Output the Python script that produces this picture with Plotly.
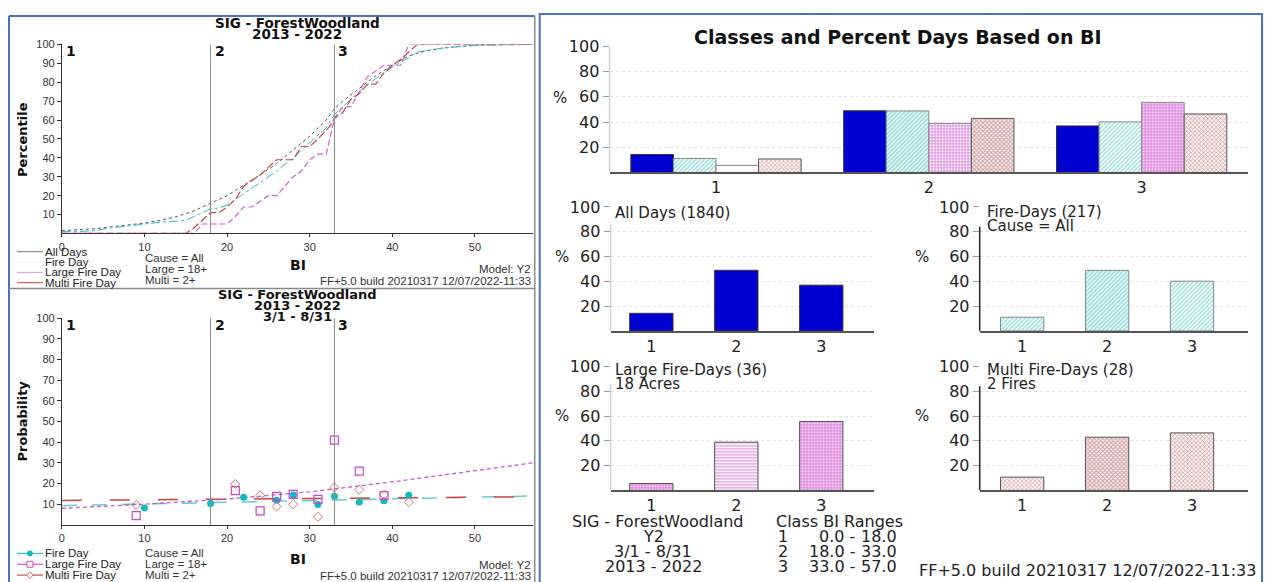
import plotly.graph_objects as go

# ---------------------------------------------------------------- data
# Cumulative percentile of BI (top-left panel)
bi_all = [0, 2, 4, 6, 8, 10, 12, 14, 16, 18, 20, 22, 24, 26, 28, 30, 32, 33, 34, 36, 38, 40, 42, 44, 46, 48, 50, 54, 57]
pct_all = [1.5, 2, 2.5, 3.5, 4.5, 5.5, 7, 9, 12, 16, 20, 25.5, 31, 37, 44, 51.5, 60, 66, 70, 77, 83.5, 89, 94, 96.5, 98, 99, 99.5, 100, 100]

bi_fire = [0, 2, 4, 6, 8, 10, 12, 14, 15, 16, 18, 19, 20, 22, 24, 26, 28, 30, 32, 33, 34, 36, 38, 40, 42, 43, 46, 50, 57]
pct_fire = [1, 1, 1.5, 3, 4, 5, 6, 6.5, 7, 9, 13, 13.5, 15, 21, 27, 33, 40, 48, 56, 63, 67, 75, 82, 88, 93, 96, 98, 99.5, 100]

bi_large = [0, 16, 17, 20, 21, 22, 23, 25, 26, 27, 28, 29, 30, 31, 32, 33, 34, 35, 36, 37, 38, 39, 41, 42, 57]
pct_large = [0, 0, 5, 5, 9, 14, 14, 20, 20, 25, 30, 33, 39, 42, 42, 61, 67, 67, 75, 83, 86, 89, 89, 100, 100]

bi_multi = [0, 15, 16, 18, 19, 20, 21, 22, 24, 26, 28, 29, 30, 31, 32.5, 33, 34, 35, 36, 37, 38, 39, 40, 41, 42, 43, 57]
pct_multi = [0, 0, 3, 11, 11, 14, 18, 25, 31, 39, 39, 46, 46, 50, 57, 61, 64, 71, 74, 79, 79, 85, 89, 92, 96, 100, 100]

# Probability by BI (bottom-left panel)
fire_bi = [10, 18, 22, 26, 28, 31, 33, 36, 39, 42]
fire_prob = [8.2, 10.3, 13.4, 11.9, 14.5, 9.9, 13.8, 11.1, 11.7, 14.3]

large_bi = [9, 21, 24, 26, 28, 31, 33, 36, 39]
large_prob = [4.5, 16.6, 6.8, 13.8, 14.8, 12.3, 41, 26, 14.2]

multi_bi = [9, 21, 24, 26, 28, 31, 33, 36, 39, 42]
multi_prob = [9.7, 19.8, 14.3, 8.9, 10.0, 3.9, 18.1, 17.1, 14.6, 11.0]

trend_bi = [0, 10, 20, 30, 40, 50, 57]
trend_large = [8, 10, 12.5, 16, 20.8, 26, 30]
trend_fire = [9.3, 10.2, 11.0, 11.8, 12.6, 13.4, 14.0]
trend_multi = [11.8, 12.1, 12.4, 12.7, 13.0, 13.3, 13.6]

class_breaks = [18.0, 33.0]
class_names = ["1", "2", "3"]

# Percent of days in each BI class (right panel)
classes = [1, 2, 3]
n_all, n_fire, n_large, n_multi = 1840, 217, 36, 28
pct_all_days = [14.2, 48.9, 36.9]
pct_fire_days = [11.1, 48.8, 40.1]
pct_large_days = [5.6, 38.9, 55.6]
pct_multi_days = [10.7, 42.9, 46.4]

range_lo = ["0.0 -", "18.0 -", "33.0 -"]
range_hi = ["18.0", "33.0", "57.0"]

stamp = "FF+5.0 build 20210317 12/07/2022-11:33"

# ---------------------------------------------------------------- helpers
W, H = 1273, 582


def px(x):
    return x / W


def py(y):
    return 1 - y / H


SANS = "Liberation Sans, Arial, sans-serif"
WIDE = "DejaVu Sans, sans-serif"

annotations = []
shapes = []


def label(x, y, s, size, anchor="center", bold=False, family=SANS, color="#222", **kw):
    annotations.append(dict(
        xref="paper", yref="paper", x=px(x), y=py(y),
        text=f"<b>{s}</b>" if bold else s, showarrow=False,
        xanchor=anchor, yanchor="middle",
        font=dict(family=family, size=size, color=color), **kw))


def seg(x0, y0, x1, y1, color, width=1, dash="solid"):
    shapes.append(dict(type="line", xref="paper", yref="paper",
                       x0=px(x0), y0=py(y0), x1=px(x1), y1=py(y1),
                       line=dict(color=color, width=width, dash=dash)))


fig = go.Figure()

# ---------------------------------------------------------------- top-left: percentile curves
fig.add_trace(go.Scatter(x=bi_all, y=pct_all, mode="lines", xaxis="x", yaxis="y",
                         line=dict(color="#555555", width=1, dash="dot"), showlegend=False))
fig.add_trace(go.Scatter(x=bi_fire, y=pct_fire, mode="lines", xaxis="x", yaxis="y",
                         line=dict(color="#30bcbc", width=1, dash="dashdot"), showlegend=False))
fig.add_trace(go.Scatter(x=bi_large, y=pct_large, mode="lines", xaxis="x", yaxis="y",
                         line=dict(color="#cc66cc", width=1.2, dash="6px,3px"), showlegend=False))
fig.add_trace(go.Scatter(x=bi_multi, y=pct_multi, mode="lines", xaxis="x", yaxis="y",
                         line=dict(color="#c84848", width=1.2, dash="8px,3px"), showlegend=False))

# ---------------------------------------------------------------- bottom-left: probability
fig.add_trace(go.Scatter(x=trend_bi, y=trend_fire, mode="lines", xaxis="x2", yaxis="y2",
                         line=dict(color="#5fd0d0", width=1.5, dash="longdash"), showlegend=False))
fig.add_trace(go.Scatter(x=trend_bi, y=trend_multi, mode="lines", xaxis="x2", yaxis="y2",
                         line=dict(color="#cc4444", width=1.5, dash="20px,28px"), showlegend=False))
fig.add_trace(go.Scatter(x=trend_bi, y=trend_large, mode="lines", xaxis="x2", yaxis="y2",
                         line=dict(color="#cc55cc", width=1.3, dash="4px,3px"), showlegend=False))
fig.add_trace(go.Scatter(x=fire_bi, y=fire_prob, mode="markers", xaxis="x2", yaxis="y2",
                         marker=dict(symbol="circle", size=7, color="#10b8c0"), showlegend=False))
fig.add_trace(go.Scatter(x=large_bi, y=large_prob, mode="markers", xaxis="x2", yaxis="y2",
                         marker=dict(symbol="square-open", size=8, color="#cc44cc", line=dict(width=1.2)),
                         showlegend=False))
fig.add_trace(go.Scatter(x=multi_bi, y=multi_prob, mode="markers", xaxis="x2", yaxis="y2",
                         marker=dict(symbol="diamond-open", size=7, color="#d07070", line=dict(width=1)),
                         showlegend=False))

# class break lines and class numbers on both left panels
for xa, ya in (("x", "y"), ("x2", "y2")):
    for b in class_breaks:
        shapes.append(dict(type="line", xref=xa, yref=ya, x0=b, x1=b, y0=0, y1=100,
                           line=dict(color="#8a8a8a", width=1)))
    for xv, name in zip([0] + class_breaks, class_names):
        annotations.append(dict(xref=xa, yref=ya, x=xv, y=96.5, text=f"<b>{name}</b>",
                                showarrow=False, xanchor="left", yanchor="middle", xshift=2,
                                font=dict(family=WIDE, size=14, color="#111")))

# ---------------------------------------------------------------- right: bars
fire_style = dict(color="#f2fbfb", line=dict(color="#7a8c8c", width=1),
                  pattern=dict(shape="/", fgcolor="#3cb8b8", bgcolor="#f0fafa", size=3,
                               solidity=[0.4, 0.5, 0.35]))
multi_style = dict(color="#fbf3f3", line=dict(color="#555", width=1),
                   pattern=dict(shape="x", fgcolor="#a04848", bgcolor="#fbf0f0", size=3,
                                solidity=[0.35, 0.5, 0.4]))
blue_style = dict(color="#0000d0", line=dict(color="#333", width=1))

top_series = [
    (pct_all_days, blue_style),
    (pct_fire_days, fire_style),
    (pct_large_days, dict(color="#ffffff", line=dict(color="#888", width=1),
                          pattern=dict(shape=["", "+", "+"], fgcolor="#c010c0", bgcolor="#ffffff",
                                       size=3, solidity=[0.3, 0.55, 0.7]))),
    (pct_multi_days, multi_style),
]
for i, (vals, style) in enumerate(top_series):
    fig.add_trace(go.Bar(x=classes, y=vals, xaxis="x3", yaxis="y3", width=0.2, offset=-0.4 + 0.2 * i,
                         marker=style, showlegend=False))

single = [
    ("x4", "y4", pct_all_days, blue_style),
    ("x5", "y5", pct_fire_days, fire_style),
    ("x6", "y6", pct_large_days, dict(color="#ffffff", line=dict(color="#555", width=1),
                                      pattern=dict(shape=["+", "-", "+"], fgcolor="#c010c0",
                                                   bgcolor="#ffffff", size=3,
                                                   solidity=[0.7, 0.4, 0.7]))),
    ("x7", "y7", pct_multi_days, multi_style),
]
for xa, ya, vals, style in single:
    fig.add_trace(go.Bar(x=classes, y=vals, xaxis=xa, yaxis=ya, width=0.51, offset=-0.255,
                         marker=style, showlegend=False))

# ---------------------------------------------------------------- axes
left_x = dict(range=[0, 57], showline=True, linecolor="#333", linewidth=1, ticks="outside",
              ticklen=3, tickcolor="#333", tickvals=[0, 10, 20, 30, 40, 50],
              tickfont=dict(family=SANS, size=11, color="#333"), showgrid=False, zeroline=False,
              domain=[px(59), px(531)])
left_y = dict(range=[0, 100], showline=True, linecolor="#333", linewidth=1, ticks="outside",
              ticklen=4, tickcolor="#333", tickvals=list(range(10, 101, 10)),
              tickfont=dict(family=SANS, size=11, color="#333"), showgrid=False, zeroline=False)

bar_y = dict(range=[0, 100], tickvals=[20, 40, 60, 80, 100], ticks="outside", ticklen=6,
             tickcolor="#999", tickfont=dict(family=WIDE, size=16, color="#222"),
             showgrid=True, gridcolor="#e2e2e2", griddash="dot", zeroline=False, showline=False)
bar_x = dict(tickvals=classes, ticktext=class_names, showgrid=False, zeroline=False,
             showline=True, linecolor="#555", linewidth=1.5, ticks="",
             tickfont=dict(family=WIDE, size=16, color="#222"))

fig.update_layout(
    width=W, height=H, margin=dict(l=0, r=0, t=0, b=0), autosize=False,
    paper_bgcolor="white", plot_bgcolor="white", barmode="overlay",
    xaxis=dict(**left_x, anchor="y"),
    yaxis=dict(**left_y, anchor="x", domain=[py(228), py(36)]),
    xaxis2=dict(**left_x, anchor="y2"),
    yaxis2=dict(**left_y, anchor="x2", domain=[py(524), py(314)]),
    xaxis3=dict(**bar_x, range=[0.5, 3.5], domain=[px(608), px(1248)], anchor="y3"),
    yaxis3=dict(**bar_y, domain=[py(166), py(38)], anchor="x3"),
    xaxis4=dict(**bar_x, range=[0.52, 3.62], domain=[px(609), px(873)], anchor="y4"),
    yaxis4=dict(**bar_y, domain=[py(327), py(201)], anchor="x4"),
    xaxis5=dict(**bar_x, range=[0.5, 3.66], domain=[px(979), px(1248)], anchor="y5"),
    yaxis5=dict(**bar_y, domain=[py(327), py(201)], anchor="x5"),
    xaxis6=dict(**bar_x, range=[0.52, 3.62], domain=[px(609), px(873)], anchor="y6"),
    yaxis6=dict(**bar_y, domain=[py(489), py(363)], anchor="x6"),
    xaxis7=dict(**bar_x, range=[0.5, 3.66], domain=[px(979), px(1248)], anchor="y7"),
    yaxis7=dict(**bar_y, domain=[py(489), py(363)], anchor="x7"),
)

# y-axis lines of the bar charts
for xa, ya, col, top in (("x3", "y3", "#cfcfcf", 100), ("x4", "y4", "#cfcfcf", 86),
                         ("x5", "y5", "#222", 84), ("x6", "y6", "#cfcfcf", 86),
                         ("x7", "y7", "#222", 84)):
    shapes.append(dict(type="line", xref=f"{xa} domain", yref=ya, x0=0, x1=0, y0=0, y1=top,
                       line=dict(color=col, width=1.5)))

# ---------------------------------------------------------------- left panel texts
label(295, 14, "SIG - ForestWoodland", 13.5, bold=True, family=WIDE, color="#111")
label(295, 25, "2013 - 2022", 13.5, bold=True, family=WIDE, color="#111")
label(20, 132, "Percentile", 13, bold=True, family=WIDE, color="#111", textangle=-90)
label(296, 260, "BI", 14, bold=True, family=WIDE, color="#111")
label(531, 264, "Model: Y2", 11.5, anchor="right", color="#333")
label(531, 276, stamp, 11.5, anchor="right", color="#333")
for yy, s in zip([253, 264.5, 275.5], ["Cause = All", "Large = 18+", "Multi = 2+"]):
    label(140, yy, s, 11.5, anchor="left", color="#333")
top_legend = [("All Days", "#777777"), ("Fire Day", "#e8f8f8"),
              ("Large Fire Day", "#dd99dd"), ("Multi Fire Day", "#c84040")]
for k, (name, col) in enumerate(top_legend):
    yy = 246.5 + 10.5 * k
    seg(14, yy, 40, yy, col, 1)
    label(40, yy, name, 11.5, anchor="left", color="#222")

label(295, 290, "SIG - ForestWoodland", 13, bold=True, family=WIDE, color="#111")
label(295, 301, "2013 - 2022", 13, bold=True, family=WIDE, color="#111")
label(295, 312, "3/1 - 8/31", 13, bold=True, family=WIDE, color="#111")
label(20, 418, "Probability", 13, bold=True, family=WIDE, color="#111", textangle=-90)
label(296, 559, "BI", 14, bold=True, family=WIDE, color="#111")
label(531, 564.5, "Model: Y2", 11.5, anchor="right", color="#333")
label(531, 575.5, stamp, 11.5, anchor="right", color="#333")
for yy, s in zip([553, 564, 575], ["Cause = All", "Large = 18+", "Multi = 2+"]):
    label(140, yy, s, 11.5, anchor="left", color="#333")
bottom_legend = [("Fire Day", "#30c0c0"), ("Large Fire Day", "#cc55cc"), ("Multi Fire Day", "#cc5050")]
for k, (name, col) in enumerate(bottom_legend):
    yy = 553 + 11 * k
    seg(14, yy, 40, yy, col, 1.2)
    label(40, yy, name, 11.5, anchor="left", color="#222")
# legend symbols
shapes.append(dict(type="circle", xref="paper", yref="paper", x0=px(24.5), x1=px(29.5),
                   y0=py(555.5), y1=py(550.5), fillcolor="#10b8c0", line=dict(color="#10b8c0", width=1)))
shapes.append(dict(type="rect", xref="paper", yref="paper", x0=px(24), x1=px(30),
                   y0=py(567), y1=py(561), fillcolor="white", line=dict(color="#cc44cc", width=1)))
shapes.append(dict(type="path", xref="paper", yref="paper",
                   path=f"M {px(27)} {py(571.5)} L {px(30)} {py(575)} L {px(27)} {py(578.5)} "
                        f"L {px(24)} {py(575)} Z",
                   fillcolor="white", line=dict(color="#d07070", width=1)))

# ---------------------------------------------------------------- right panel texts
label(897, 28, "Classes and Percent Days Based on BI", 19, bold=True, family=WIDE, color="#111")
for xx, yy in ((558, 90), (560, 252), (921, 252), (560, 413), (921, 413)):
    label(xx, yy, "%", 15, family=WIDE, color="#222")
label(611, 207, f"All Days ({n_all})", 15, anchor="left", family=WIDE)
label(984, 206, f"Fire-Days ({n_fire})", 15, anchor="left", family=WIDE)
label(984, 220, "Cause = All", 15, anchor="left", family=WIDE)
label(611, 367, f"Large Fire-Days ({n_large})", 15, anchor="left", family=WIDE)
label(611, 381, "18 Acres", 15, anchor="left", family=WIDE)
label(984, 367, f"Multi Fire-Days ({n_multi})", 15, anchor="left", family=WIDE)
label(984, 381, "2 Fires", 15, anchor="left", family=WIDE)

label(656, 521, "SIG - ForestWoodland", 16, family=WIDE)
label(838, 521, "Class BI Ranges", 16, family=WIDE)
for k, s in enumerate(["Y2", "3/1 - 8/31", "2013 - 2022"]):
    label(652, 536 + 15 * k, s, 16, family=WIDE)
for k in range(3):
    yy = 536 + 15 * k
    label(782, yy, class_names[k], 16, family=WIDE)
    label(856, yy, range_lo[k], 16, anchor="right", family=WIDE)
    label(898, yy, range_hi[k], 16, anchor="right", family=WIDE)
label(1257, 570, stamp, 16, anchor="right", family=WIDE, bgcolor="white", borderpad=0)

# ---------------------------------------------------------------- panel frames
BLUE = "#4a72c4"
seg(6, 7, 6, 582, BLUE, 2)
seg(6, 7, 533, 7, BLUE, 2)
seg(533, 7, 533, 582, "#8a8a8a", 1.5)
seg(6, 284, 533, 284, "#8a8a8a", 1.5)
shapes.append(dict(type="rect", xref="paper", yref="paper", x0=px(538), x1=px(1262),
                   y0=py(590), y1=py(5), line=dict(color=BLUE, width=2)))

fig.update_layout(shapes=shapes, annotations=annotations)
fig.write_html("out.html", post_script="document.body.style.margin='0px';")
